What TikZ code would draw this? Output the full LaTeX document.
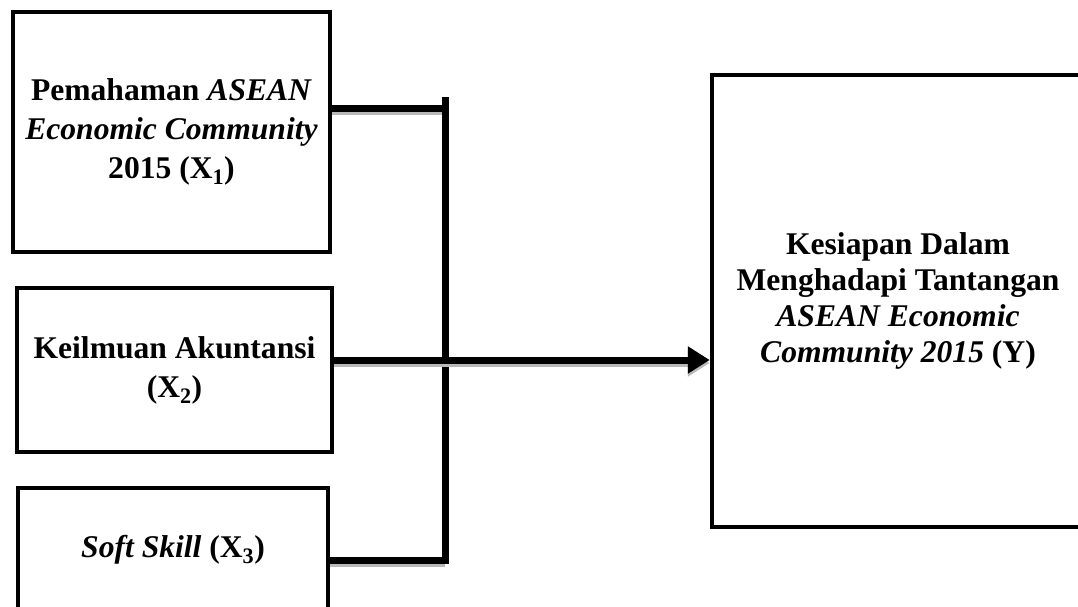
\documentclass[tikz,border=0pt]{standalone}
\usepackage{fontspec}
\setmainfont{Liberation Serif}
\usetikzlibrary{arrows.meta}
\tikzset{
  box/.style={draw=black, line width=4.5pt, rectangle, inner sep=0pt, align=center,
    font=\fontsize{31.6}{39}\selectfont\bfseries},
  conn/.style={line width=7pt, black},
  shadowed/.style={preaction={draw=gray!55, line width=7pt, transform canvas={yshift=-3pt}}},
  arr/.style={-{Triangle[length=22pt,width=26pt]}}
}
\begin{document}
\begin{tikzpicture}[x=1pt,y=1pt]
\useasboundingbox (0,0) rectangle (1078,-606);
\clip (0,0) rectangle (1078,-606);
\node[box, minimum width=317pt, minimum height=240pt] (x1) at (171.5,-132)
  {Pemahaman \textit{ASEAN}\\\textit{Economic Community}\\2015 (X\textsubscript{1})};
\node[box, minimum width=315pt, minimum height=164pt] (x2) at (174.5,-370)
  {Keilmuan Akuntansi\\(X\textsubscript{2})};
\node[box, minimum width=310pt, minimum height=124pt] (x3) at (173,-550)
  {\textit{Soft Skill} (X\textsubscript{3})};
\node[box, minimum width=372pt, minimum height=452pt, font=\fontsize{31.6}{36}\selectfont\bfseries] (y) at (898,-301)
  {Kesiapan Dalam\\Menghadapi Tantangan\\\textit{ASEAN Economic}\\\textit{Community 2015} (Y)};
\coordinate (jtop) at (445,-97);
\coordinate (j1) at (445,-108);
\coordinate (j3) at (445,-560);
\coordinate (jbot) at (445,-564);
\coordinate (a2) at (445,-360);
\draw[conn, shadowed] (x1.east |- j1) -- (j1);
\draw[conn, shadowed] (x3.east |- j3) -- (j3);
\draw[conn] (jtop) -- (jbot);
\draw[conn, shadowed, arr] (x2.east |- a2) -- (y.west |- a2);
\end{tikzpicture}
\end{document}
